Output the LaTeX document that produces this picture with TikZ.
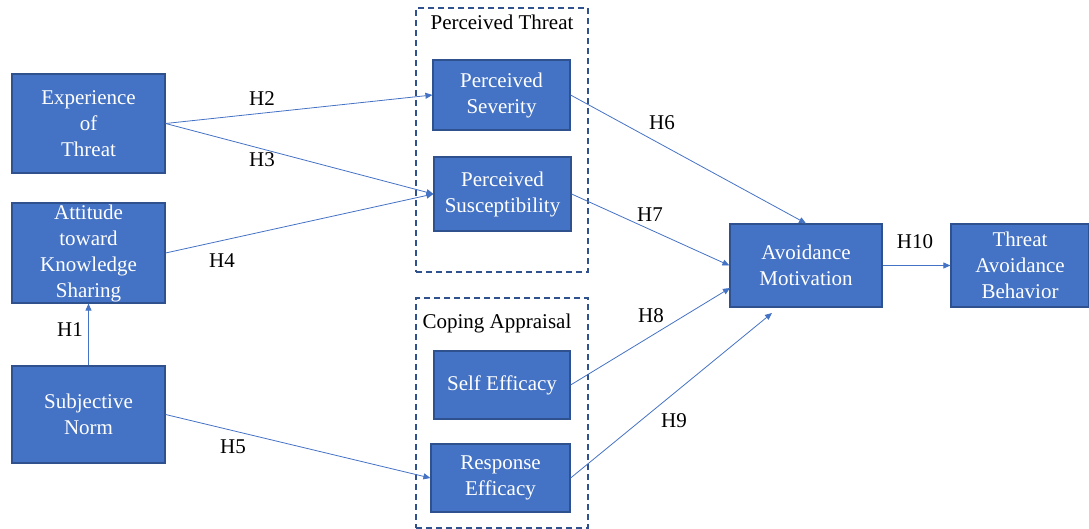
\documentclass[tikz,border=0pt]{standalone}
\usepackage{fontspec}
\setmainfont{Liberation Serif}
\newfontfamily\diagfont{Liberation Serif}
\usetikzlibrary{positioning, arrows.meta}
\definecolor{boxblue}{HTML}{4472C4}
\definecolor{boxedge}{HTML}{2F528F}

\begin{document}
\begin{tikzpicture}[
        x=1pt, y=-1pt,
        >={Triangle[length=7pt, width=6pt]},
        font=\diagfont\fontsize{21}{26}\selectfont,
        construct/.style={rectangle, fill=boxblue, draw=boxedge, line width=1.2pt, text=white, align=center, inner sep=0pt},
        group/.style={rectangle, draw=boxedge, line width=1.6pt, dash pattern=on 6pt off 4pt, inner sep=0pt},
        hyp/.style={->, draw=boxblue, line width=0.8pt},
    ]
    \useasboundingbox (0,0) rectangle (1089,529);

        % Draw the two dashed groups
        \node[group, minimum width=172pt, minimum height=264pt] (threat) at (502,140) {};
        \node[group, minimum width=172pt, minimum height=230pt] (coping) at (502,413) {};
        \node (threat-title) at (502,22) {Perceived Threat};
        \node (coping-title) at (497,323) {Coping Appraisal};

        % Draw the antecedents
        \node[construct, minimum width=153pt, minimum height=99pt] (exp) at (88.5,123.5) {Experience\\of\\Threat};
        \node[construct, minimum width=153pt, minimum height=100pt] (att) at (88.5,253) {Attitude\\toward\\Knowledge\\Sharing};
        \node[construct, minimum width=153pt, minimum height=97pt] (subj) at (88.5,414.5) {Subjective\\Norm};

        % Draw the appraisal nodes
        \node[construct, minimum width=137pt, minimum height=70pt] (sev) at (501.5,95) {Perceived\\Severity};
        \node[construct, minimum width=137pt, minimum height=74pt] (sus) at (502.5,194) {Perceived\\Susceptibility};
        \node[construct, minimum width=136pt, minimum height=68pt] (self) at (502,385) {Self Efficacy};
        \node[construct, minimum width=139pt, minimum height=68pt] (resp) at (500.5,478) {Response\\Efficacy};

        % Draw the outcome nodes
        \node[construct, minimum width=152pt, minimum height=83pt] (avoid) at (806,265.5) {Avoidance\\Motivation};
        \node[construct, minimum width=138pt, minimum height=83pt] (behav) at (1020,265.5) {Threat\\Avoidance\\Behavior};

        \coordinate (h8end) at (730,288);
        \coordinate (h9end) at (772,313);

        % Connect the constructs
        \foreach \source / \dest in {subj.north/att.south, exp.east/sev.west, exp.east/sus.west,
                att.east/sus.west, subj.east/resp.west, sev.east/avoid.north, sus.east/avoid.west,
                self.east/h8end, resp.east/h9end, avoid.east/behav.west}
            \draw[hyp] (\source) -- (\dest);

        % Hypothesis labels
        \foreach \name / \x / \y in {H1/70/330, H2/262/99, H3/262/160, H4/222/261, H5/233/447,
                H6/662/123, H7/650/215, H8/651/316, H9/674/421, H10/915/242}
            \node (lbl-\name) at (\x,\y) {\name};
\end{tikzpicture}
\end{document}
